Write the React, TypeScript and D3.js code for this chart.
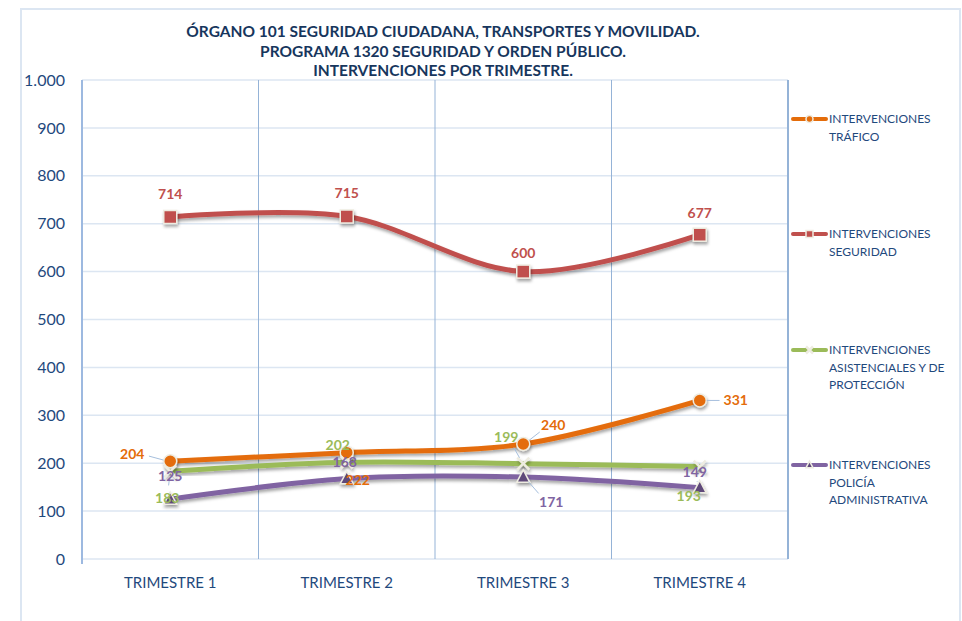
import React, { useEffect, useRef } from 'react'
import * as d3 from 'd3'

// categories and values
const categories = ['TRIMESTRE 1', 'TRIMESTRE 2', 'TRIMESTRE 3', 'TRIMESTRE 4']
const trafico = [204, 222, 240, 331]
const seguridad = [714, 715, 600, 677]
const asistenciales = [183, 202, 199, 193]
const policia = [125, 168, 171, 149]
const yTicks = [0, 100, 200, 300, 400, 500, 600, 700, 800, 900, 1000]

const titleLines = [
  'ÓRGANO 101 SEGURIDAD CIUDADANA, TRANSPORTES Y MOVILIDAD.',
  'PROGRAMA 1320 SEGURIDAD Y ORDEN PÚBLICO.',
  'INTERVENCIONES POR TRIMESTRE.',
]

const series = [
  { name: ['INTERVENCIONES', 'TRÁFICO'], values: trafico, color: '#E46C0A', marker: 'circle' },
  { name: ['INTERVENCIONES', 'SEGURIDAD'], values: seguridad, color: '#C0504D', marker: 'square' },
  { name: ['INTERVENCIONES', 'ASISTENCIALES Y DE', 'PROTECCIÓN'], values: asistenciales, color: '#9BBB59', marker: 'x' },
  { name: ['INTERVENCIONES', 'POLICÍA', 'ADMINISTRATIVA'], values: policia, color: '#8064A2', marker: 'triangle' },
]

// label placement (offsets from the point, as Excel left them), and whether a leader line is drawn
const labelOffsets = [
  [[-38, -7, true], [11, 27, false], [30, -19, true], [36, 0, true]],
  [[0, -23, false], [0, -23, false], [0, -19, false], [0, -22, false]],
  [[-3, 27, true], [-9, -17, false], [-17, -27, true], [-11, 30, false]],
  [[0, -23, false], [-2, -16, false], [28, 25, true], [-5, -16, true]],
]

const FONT = 'Lato, "Open Sans", sans-serif'
const DARK = '#1F497D'

function App() {
  const ref = useRef(null)

  useEffect(() => {
    const svg = d3.select(ref.current)
    svg.selectAll('*').remove()

    const left = 82, right = 788, top = 80, bottom = 559

    const defs = svg.append('defs')
    const f = defs.append('filter').attr('id', 'shadow').attr('x', '-20%').attr('y', '-20%').attr('width', '140%').attr('height', '160%')
    f.append('feDropShadow').attr('dx', 1).attr('dy', 2.5).attr('stdDeviation', 1.5)
      .attr('flood-color', '#000').attr('flood-opacity', 0.35)

    // outer chart frame
    svg.append('rect').attr('x', 21).attr('y', 9).attr('width', 939).attr('height', 640)
      .attr('fill', 'white').attr('stroke', '#DCE6F2').attr('stroke-width', 2)

    // title
    svg.append('g').selectAll('text').data(titleLines).join('text')
      .attr('x', 443).attr('y', (d, i) => 37 + i * 19.5)
      .attr('text-anchor', 'middle')
      .attr('font-family', FONT).attr('font-weight', 'bold').attr('font-size', 15.5)
      .attr('fill', '#17365D')
      .text(d => d)

    const x = d3.scalePoint().domain(categories).range([left, right]).padding(0.5)
    const y = d3.scaleLinear().domain([0, 1000]).range([bottom, top])
    const step = x.step()

    // horizontal gridlines
    svg.append('g').selectAll('line').data(yTicks).join('line')
      .attr('x1', left).attr('x2', right)
      .attr('y1', d => y(d)).attr('y2', d => y(d))
      .attr('stroke', '#DCE6F2').attr('stroke-width', 1.5)

    // vertical category separators
    const seps = d3.range(1, categories.length + 1).map(i => left + i * step)
    svg.append('g').selectAll('line').data(seps).join('line')
      .attr('x1', d => d).attr('x2', d => d)
      .attr('y1', top).attr('y2', bottom)
      .attr('stroke', '#95B3D7').attr('stroke-width', d => (d >= right - 1 ? 2 : 1))

    // y axis line
    svg.append('line').attr('x1', left).attr('x2', left).attr('y1', top).attr('y2', bottom + 5)
      .attr('stroke', '#9DB9E0').attr('stroke-width', 2)

    // y tick labels
    const fmt = (v) => d3.format(',')(v).replace(/,/g, '.')
    svg.append('g').selectAll('text').data(yTicks).join('text')
      .attr('x', 65).attr('y', d => y(d)).attr('dy', '0.35em')
      .attr('text-anchor', 'end')
      .attr('font-family', FONT).attr('font-size', 16).attr('fill', DARK)
      .text(d => fmt(d))

    // x labels
    svg.append('g').selectAll('text').data(categories).join('text')
      .attr('x', d => x(d)).attr('y', 583).attr('dy', '0.35em')
      .attr('text-anchor', 'middle')
      .attr('font-family', FONT).attr('font-size', 15).attr('fill', DARK)
      .text(d => d)

    const curve = d3.line().curve(d3.curveCardinal.tension(0))

    const drawMarker = (g, kind, cx, cy, color, s) => {
      if (kind === 'circle') {
        g.append('circle').attr('cx', cx).attr('cy', cy).attr('r', s)
          .attr('fill', color).attr('stroke', '#EEECE1').attr('stroke-width', 1.5)
      } else if (kind === 'square') {
        g.append('rect').attr('x', cx - s).attr('y', cy - s).attr('width', 2 * s).attr('height', 2 * s)
          .attr('fill', color).attr('stroke', '#EEECE1').attr('stroke-width', 1.5)
      } else if (kind === 'triangle') {
        const p = d3.path()
        p.moveTo(cx, cy - s * 1.1); p.lineTo(cx + s, cy + s * 0.8); p.lineTo(cx - s, cy + s * 0.8); p.closePath()
        g.append('path').attr('d', p.toString())
          .attr('fill', '#5F497A').attr('stroke', '#EEECE1').attr('stroke-width', 1.5)
      } else {
        const p = d3.path()
        p.moveTo(cx - s, cy - s); p.lineTo(cx + s, cy + s)
        p.moveTo(cx + s, cy - s); p.lineTo(cx - s, cy + s)
        g.append('path').attr('d', p.toString())
          .attr('stroke', '#EEECE1').attr('stroke-width', 2.5)
      }
    }

    const lines = svg.append('g')
    series.forEach((s) => {
      const pts = s.values.map((v, i) => [x(categories[i]), y(v)])
      lines.append('path').attr('d', curve(pts))
        .attr('fill', 'none').attr('stroke', s.color).attr('stroke-width', 5)
        .attr('stroke-linecap', 'round').attr('filter', 'url(#shadow)')
    })
    series.forEach((s) => {
      const g = lines.append('g').attr('filter', 'url(#shadow)')
      s.values.forEach((v, i) => drawMarker(g, s.marker, x(categories[i]), y(v), s.color, s.marker === 'x' ? 6 : 6.5))
    })

    // data labels with leader lines
    const lab = svg.append('g')
    series.forEach((s, si) => {
      s.values.forEach((v, i) => {
        const [dx, dy, leader] = labelOffsets[si][i]
        const px = x(categories[i]), py = y(v)
        const lx = px + dx, ly = py + dy
        if (leader) {
          const len = Math.hypot(dx, dy)
          const ux = -dx / len, uy = -dy / len
          lab.append('line')
            .attr('x1', lx + ux * Math.min(17, len * 0.45)).attr('y1', ly + uy * Math.min(10, len * 0.45) + (Math.abs(uy) > 0.5 ? uy * 3 : 0))
            .attr('x2', px - ux * 7).attr('y2', py - uy * 7)
            .attr('stroke', '#A6BFDD').attr('stroke-width', 1)
        }
        lab.append('text').attr('x', lx).attr('y', ly).attr('dy', '0.35em')
          .attr('text-anchor', 'middle')
          .attr('font-family', FONT).attr('font-weight', 'bold').attr('font-size', 14)
          .attr('fill', s.color)
          .text(v)
      })
    })

    // legend
    const legendY = [119, 234, 350, 465]
    series.forEach((s, si) => {
      const g = svg.append('g').attr('transform', `translate(0,${legendY[si]})`)
      g.append('line').attr('x1', 793).attr('x2', 826).attr('y1', 0).attr('y2', 0)
        .attr('stroke', s.color).attr('stroke-width', 4).attr('stroke-linecap', 'round')
      drawMarker(g, s.marker, 809.5, 0, s.color, 3.5)
      g.selectAll('text').data(s.name).join('text')
        .attr('x', 829).attr('y', (d, i) => i * 17.5).attr('dy', '0.35em')
        .attr('font-family', FONT).attr('font-size', 12).attr('fill', DARK)
        .text(d => d)
    })
  }, [])

  return (
    <svg ref={ref} width={962} height={621} style={{ position: 'absolute', left: 0, top: 0, display: 'block' }} />
  )
}

export default App
